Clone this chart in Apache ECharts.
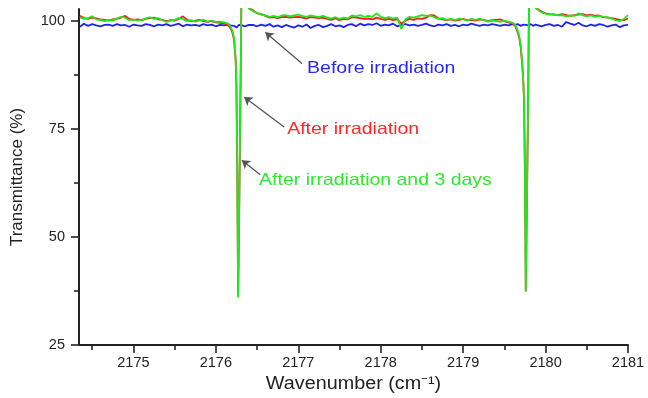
<!DOCTYPE html>
<html><head><meta charset="utf-8">
<script src="https://cdn.jsdelivr.net/npm/echarts@6/dist/echarts.min.js"></script>
<style>html,body{margin:0;padding:0;background:#fff}#c{width:648px;height:398px}</style>
</head><body><div id="c"></div>
<script>
// Wavenumber grid (cm^-1)
const wavenumber = [
  2174.35,2174.40,2174.45,2174.50,2174.55,2174.60,2174.65,2174.70,2174.75,2174.80,2174.85,2174.90,2174.95,2175.00,2175.05,2175.10,2175.15,2175.20,2175.25,2175.30,2175.35,2175.40,2175.45,2175.50,2175.55,2175.60,2175.65,2175.70,2175.75,2175.80,2175.85,2175.90,2175.95,2176.00,2176.05,2176.10,2176.15,
  2176.18,2176.20,2176.22,2176.24,2176.25,2176.26,2176.27,2176.28,2176.29,2176.30,2176.32,2176.35,2176.40,
  2176.45,2176.50,2176.55,2176.60,2176.65,2176.70,2176.75,2176.80,2176.85,2176.90,2176.95,2177.00,2177.05,2177.10,2177.15,2177.20,2177.25,2177.30,2177.35,2177.40,2177.45,2177.50,2177.55,2177.60,2177.65,2177.70,2177.75,2177.80,2177.85,2177.90,2177.95,2178.00,2178.05,2178.10,2178.15,2178.20,2178.25,2178.30,2178.35,2178.40,2178.45,2178.50,2178.55,2178.60,2178.65,2178.70,2178.75,2178.80,2178.85,2178.90,2178.95,2179.00,2179.05,2179.10,2179.15,2179.20,2179.25,2179.30,2179.35,2179.40,2179.45,2179.50,2179.55,2179.60,
  2179.63,2179.66,2179.68,2179.70,2179.72,2179.73,2179.74,2179.75,2179.76,2179.77,2179.78,2179.79,2179.80,2179.82,2179.85,2179.88,
  2179.90,2179.95,2180.00,2180.05,2180.10,2180.15,2180.20,2180.25,2180.30,2180.35,2180.40,2180.45,2180.50,2180.55,2180.60,2180.65,2180.70,2180.75,2180.80,2180.85,2180.90,2180.95,2181.00
];
// Transmittance (%) — Before irradiation
const beforeIrradiation = [
  98.7,99.4,98.9,99.3,99.0,98.8,99.1,99.2,98.9,99.3,99.0,99.1,98.7,99.2,99.0,98.9,99.3,99.1,98.8,99.2,99.0,99.3,98.9,99.1,99.4,98.8,99.2,99.0,99.1,98.9,99.3,99.0,99.2,98.8,99.1,99.0,99.2,
  99.0,99.2,98.9,98.6,98.5,98.7,98.9,99.1,99.0,99.2,99.0,98.8,99.1,
  99.1,98.8,99.2,98.9,99.3,98.7,99.0,98.6,99.1,98.8,98.5,99.0,98.7,99.2,98.4,98.9,99.1,98.6,98.9,99.3,98.8,99.0,98.6,99.1,99.3,98.8,99.4,99.0,99.3,99.1,99.5,98.9,99.2,99.0,99.4,98.8,99.1,99.3,99.0,99.2,98.9,99.1,99.4,99.0,98.8,99.2,99.0,99.3,98.9,99.1,98.8,99.2,99.0,99.4,99.1,98.9,99.2,99.0,99.3,99.1,98.9,99.2,99.0,99.3,
  99.1,99.3,99.0,98.9,99.1,99.2,99.0,99.3,99.1,98.9,99.2,99.0,99.1,99.3,98.9,99.2,
  99.2,98.8,99.1,99.3,98.9,99.1,98.7,99.8,99.4,99.1,99.6,99.0,98.8,99.2,98.9,99.3,99.1,98.7,99.0,99.2,98.6,99.0,99.1
];
// Transmittance (%) — After irradiation
const afterIrradiation = [
  101.2,100.7,100.5,100.8,100.6,100.4,100.3,100.1,100.4,100.5,100.8,101.2,100.5,100.3,100.4,100.2,100.5,100.7,100.8,100.4,100.3,100.0,100.2,100.1,100.5,101.1,100.3,100.0,100.1,100.3,100.0,99.8,100.0,99.7,99.6,99.4,99.0,
  98.3,97.4,95.8,91,85,65,36.5,50,68,85,124,117,103.0,
  102.5,101.8,101.6,101.2,100.8,100.9,100.7,100.9,101.0,100.8,100.9,101.0,100.8,100.6,100.9,100.8,100.7,100.8,100.5,100.3,100.6,100.2,100.5,100.4,100.9,100.8,100.7,100.5,100.6,100.4,100.8,100.5,100.3,100.5,100.2,100.4,99.4,100.1,100.5,100.3,100.6,100.5,100.8,101.4,101.3,100.6,100.4,100.2,100.4,100.1,100.3,100.5,100.2,100.3,100.1,100.4,100.3,100.0,100.2,100.3,100.4,100.0,99.7,99.4,
  98.9,97.5,96.2,93.8,89,86,81,64,37.6,52,68,84,107,124,111,103.1,
  102.8,102.2,101.8,101.6,101.5,101.4,101.6,101.4,101.2,101.4,101.5,101.6,101.3,101.5,101.2,101.3,100.9,100.8,100.7,100.5,100.3,100.2,100.6
];
// Transmittance (%) — After irradiation and 3 days
const afterIrradiation3Days = [
  100.9,100.5,100.7,101.1,100.4,100.2,100.0,100.3,100.1,100.6,101.0,100.8,100.2,100.4,100.1,100.3,100.6,100.9,100.5,100.7,100.2,99.8,100.1,100.3,100.7,100.5,100.0,100.2,99.9,100.1,100.3,99.9,100.1,99.8,99.9,99.7,99.4,
  98.7,97.8,96.2,91.5,85,65,36,50,68,85,125,118,102.9,
  102.3,101.9,101.5,101.3,101.0,101.2,100.9,101.3,101.4,101.1,101.3,101.5,101.2,101.0,101.3,101.1,100.9,101.2,100.8,100.6,100.9,100.5,100.8,100.6,101.3,101.1,101.4,101.0,101.2,101.0,101.8,101.0,100.7,100.9,100.6,100.8,98.2,100.4,101.0,100.8,101.1,101.4,101.2,101.3,100.9,100.5,100.7,100.3,100.5,100.2,100.6,100.4,100.1,100.5,100.3,100.6,100.2,99.9,100.1,100.0,99.8,100.1,99.9,99.6,
  99.2,97.9,96.6,94.2,89.5,86,81,64,37.3,52,68,84,108,125,112,103.0,
  102.6,102.0,101.7,101.5,101.6,101.3,101.4,101.1,101.3,101.2,101.8,101.4,101.1,101.3,101.0,101.2,101.0,100.9,100.6,100.2,100.0,100.5,101.4
];
const xMajorTicks = [2175, 2176, 2177, 2178, 2179, 2180, 2181];
const xMinorTicks = [2174.5, 2175.5, 2176.5, 2177.5, 2178.5, 2179.5, 2180.5];
const yMajorTicks = [25, 50, 75, 100];
const yMinorTicks = [37.5, 62.5, 87.5];
const seriesNames = ['Before irradiation', 'After irradiation', 'After irradiation and 3 days'];

const FONT = '"Liberation Sans", Arial, sans-serif';
const AX = '#222';
const colors = {line: ['#2222ee', '#ff1a1a', '#1fe81f'], text: ['#2626ff', '#ff2626', '#2ee82e']};

// Annotation anchors (data space): label left-middle point, arrow tail and arrow tip
const annotations = [
  {label: [2177.107, 89.1], from: [2177.044, 90.2], to: [2176.60, 97.4]},
  {label: [2176.865, 75.0], from: [2176.829, 75.5], to: [2176.343, 82.4]},
  {label: [2176.525, 63.0], from: [2176.538, 64.4], to: [2176.316, 67.8]}
];

const pairs = arr => wavenumber.map((w, i) => [w, arr[i]]);

const chart = echarts.init(document.getElementById('c'), null, {renderer: 'canvas'});
const xBase = {type: 'value', min: 2174.34, max: 2181, position: 'bottom', splitLine: {show: false}, gridIndex: 0};
const yBase = {type: 'value', min: 25, max: 102.8, position: 'left', splitLine: {show: false}, gridIndex: 0};
const lineSeries = (name, data, color, z) => ({
  name, type: 'line', data: pairs(data), xAxisIndex: 0, yAxisIndex: 0,
  showSymbol: false, symbol: 'none', clip: true, z,
  lineStyle: {color, width: 1.8}, emphasis: {disabled: true}
});

const option = {
  animation: false,
  backgroundColor: '#fff',
  grid: {left: 79, right: 20, top: 9, bottom: 53, outerBoundsMode: 'none', containLabel: false},
  xAxis: [
    Object.assign({}, xBase, {
      axisLine: {show: true, lineStyle: {color: AX, width: 2}},
      axisTick: {show: true, length: 8, inside: false, lineStyle: {color: AX, width: 1.6}, customValues: xMajorTicks},
      axisLabel: {show: true, margin: 10, color: AX, fontSize: 14.5, fontFamily: FONT, customValues: xMajorTicks,
                  formatter: v => String(v)}
    }),
    Object.assign({}, xBase, {
      axisLine: {show: false},
      axisTick: {show: true, length: 5, lineStyle: {color: AX, width: 1.6}, customValues: xMinorTicks},
      axisLabel: {show: false}
    })
  ],
  yAxis: [
    Object.assign({}, yBase, {
      axisLine: {show: true, lineStyle: {color: AX, width: 2}},
      axisTick: {show: true, length: 8, lineStyle: {color: AX, width: 1.6}, customValues: yMajorTicks},
      axisLabel: {show: true, margin: 14, color: AX, fontSize: 14.5, fontFamily: FONT, customValues: yMajorTicks,
                  formatter: v => String(v)},
      name: 'Transmittance (%)', nameLocation: 'middle', nameGap: 53, nameRotate: 90,
      nameTextStyle: {color: AX, fontSize: 17, fontFamily: FONT}
    }),
    Object.assign({}, yBase, {
      axisLine: {show: false},
      axisTick: {show: true, length: 5, lineStyle: {color: AX, width: 1.6}, customValues: yMinorTicks},
      axisLabel: {show: false}
    })
  ],
  series: [
    Object.assign(lineSeries(seriesNames[0], beforeIrradiation, colors.line[0], 2), {
      markLine: {
        silent: true, animation: false, symbol: ['none', 'arrow'], symbolSize: 8,
        label: {show: false}, emphasis: {disabled: true},
        lineStyle: {color: '#555', width: 1.3, type: 'solid'},
        data: annotations.map(a => [{coord: a.from}, {coord: a.to}])
      }
    }),
    lineSeries(seriesNames[1], afterIrradiation, colors.line[1], 3),
    lineSeries(seriesNames[2], afterIrradiation3Days, colors.line[2], 4)
  ]
};
chart.setOption(option);

// Text annotations and x-axis title (slightly wide glyphs as in the reference)
const graphics = annotations.map((a, i) => {
  const p = chart.convertToPixel({xAxisIndex: 0, yAxisIndex: 0}, a.label);
  return {
    type: 'text', x: p[0], y: p[1], scaleX: 1.18, z: 100,
    style: {text: seriesNames[i], fill: colors.text[i], fontSize: 16.5, fontFamily: FONT, align: 'left', verticalAlign: 'middle'}
  };
});
const xc = chart.convertToPixel({xAxisIndex: 0}, (2174.34 + 2181) / 2);
graphics.push({
  type: 'text', x: xc, y: 384, scaleX: 1.13, z: 100,
  style: {text: 'Wavenumber (cm⁻¹)', fill: AX, fontSize: 17.5, fontFamily: FONT, align: 'center', verticalAlign: 'middle'}
});
chart.setOption({graphic: graphics});
</script>
</body></html>
